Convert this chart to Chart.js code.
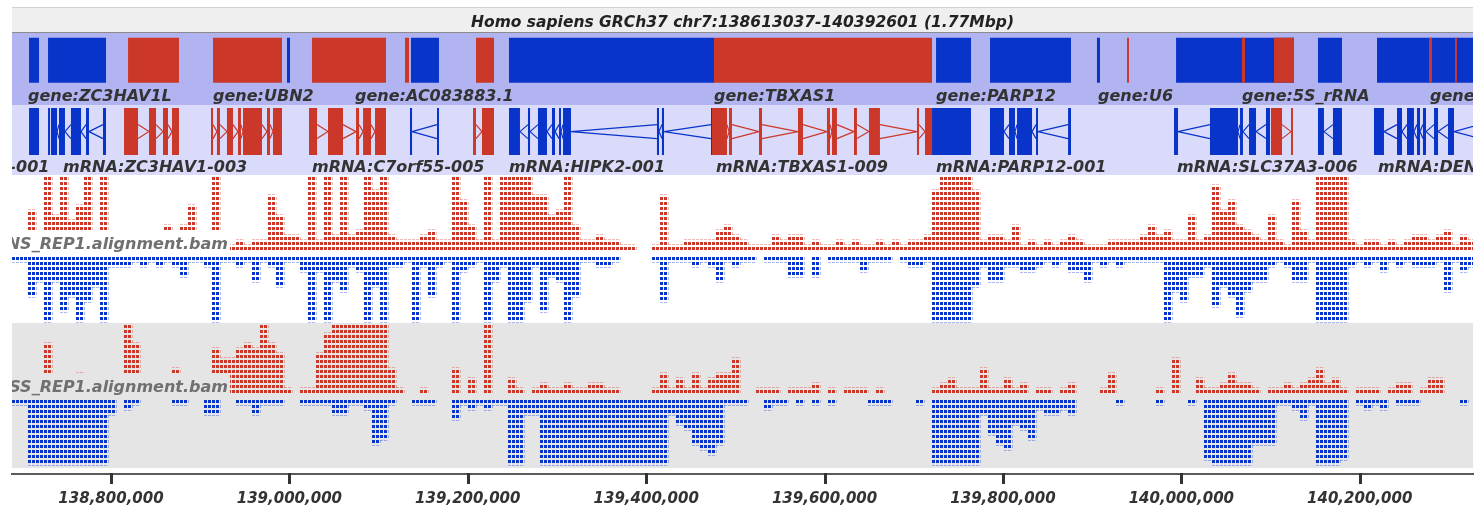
<!DOCTYPE html>
<html>
<head>
<meta charset="utf-8">
<title>chr7 region</title>
<script src="https://cdn.jsdelivr.net/npm/chart.js@4.4.0/dist/chart.umd.min.js"></script>
<style>
  html, body { margin: 0; padding: 0; background: #fff; }
  canvas { display: block; }
</style>
</head>
<body>
<canvas id="genomeChart" width="1475" height="506"></canvas>
<script>
// all positions are in kb on chr7
const titleText = 'Homo sapiens GRCh37 chr7:138613037-140392601 (1.77Mbp)';
const xMin = 138689;
const xMax = 140327;
const tickValues = [138800, 139000, 139200, 139400, 139600, 139800, 140000, 140200];

// gene track (minus strand blue, plus strand red)
const geneMinus = [
  [138708.1, 138719.3], [138729.4, 138794.4], [138997.3, 139000.7], [139136.3, 139167.7],
  [139246.2, 139476.1], [139725.0, 139764.2], [139785.5, 139876.3], [139905.4, 139908.8],
  [139994.1, 140126.3], [140153.2, 140180.1], [140219.4, 140328.1]
];
const genePlus = [
  [138819.1, 138876.2], [138914.4, 138991.7], [139025.3, 139108.3], [139129.6, 139134.1],
  [139209.2, 139229.4], [139476.1, 139720.5], [139939.1, 139941.3], [140068.0, 140071.4],
  [140103.9, 140126.3], [140277.7, 140281.1], [140306.8, 140309.0]
];
const geneNames = ['gene:ZC3HAV1L', 'gene:UBN2', 'gene:AC083883.1', 'gene:TBXAS1',
  'gene:PARP12', 'gene:U6', 'gene:5S_rRNA', 'gene:DENND2A'];
const geneNameAt = [138706.9, 138914.4, 139073.6, 139476.1, 139725.0, 139906.6, 140068.0, 140278.8];

// transcripts
const mrnaStrand = [-1, -1, 1, 1, 1, -1, 1, -1, 1, -1, -1, -1, 1, -1, -1];
const mrnaExons = [
  [[138708.1, 138719.3]],
  [[138729.4, 138731.6], [138732.7, 138739.5], [138741.7, 138748.4], [138755.1, 138766.4], [138772.0, 138775.3], [138791.0, 138794.4]],
  [[138814.6, 138830.3], [138842.6, 138850.5], [138858.3, 138863.9], [138868.4, 138876.2]],
  [[138912.1, 138914.4], [138918.8, 138922.2], [138930.0, 138936.8], [138942.4, 138945.7], [138948.0, 138969.3], [138974.9, 138978.3], [138981.6, 138991.7]],
  [[139022.0, 139031.0], [139043.3, 139060.1], [139074.7, 139078.1], [139082.6, 139091.5], [139096.0, 139108.3]],
  [[139135.2, 139137.5], [139165.5, 139167.7]],
  [[139205.9, 139209.2], [139215.9, 139229.4]],
  [[139246.2, 139258.5], [139267.5, 139269.8], [139278.7, 139288.8], [139294.4, 139297.8], [139302.3, 139304.5], [139306.8, 139315.7], [139412.1, 139414.4], [139417.7, 139420.0], [139472.7, 139474.9]],
  [[139473.8, 139490.6], [139492.9, 139496.2], [139526.5, 139529.9], [139570.2, 139575.8], [139602.7, 139606.1], [139608.3, 139613.9], [139633.0, 139636.3], [139649.8, 139662.1], [139703.6, 139705.9], [139712.6, 139720.5]],
  [[139720.5, 139764.2]],
  [[139785.5, 139801.2], [139806.8, 139813.5], [139815.8, 139832.6], [139837.1, 139839.3], [139873.0, 139876.3]],
  [[139991.8, 139996.3], [140032.1, 140063.5], [140065.8, 140069.1], [140075.9, 140083.7], [140094.9, 140099.4]],
  [[140100.5, 140112.9], [140123.0, 140125.2]],
  [[140153.2, 140159.9], [140170.0, 140180.1]],
  [[140216.0, 140227.2], [140241.8, 140247.4], [140253.0, 140260.8], [140264.2, 140267.6], [140270.9, 140274.3], [140283.3, 140287.8], [140299.0, 140305.7], [140334.9, 140340.0]]
];
const mrnaNames = ['mRNA:ZC3HAV1L-001', 'mRNA:ZC3HAV1-003', 'mRNA:C7orf55-005', 'mRNA:HIPK2-001',
  'mRNA:TBXAS1-009', 'mRNA:PARP12-001', 'mRNA:SLC37A3-006', 'mRNA:DENND2A-001'];
const mrnaNameAt = [138513, 138746.2, 139025.3, 139246.2, 139478.3, 139725.0, 139995.1, 140220.5];

// read pileups, counts per bin (bin centre = covStart + i * covStep)
const covStart = 138693.48;
const covStep = 8.9692;
const cov1Name = 'NS_REP1.alignment.bam';
const cov2Name = 'SS_REP1.alignment.bam';
const cov1Fwd = [
  0, 0, 8, 0, 15, 7, 15, 6, 9, 15,
  0, 15, 0, 0, 0, 0, 0, 0, 0, 5,
  0, 5, 9, 0, 0, 15, 0, 1, 2, 1,
  2, 2, 11, 7, 3, 3, 2, 15, 2, 15,
  3, 15, 3, 4, 15, 12, 15, 3, 2, 2,
  2, 3, 4, 2, 2, 15, 10, 5, 2, 15,
  2, 15, 15, 15, 15, 11, 11, 7, 8, 15,
  5, 2, 2, 3, 2, 2, 1, 1, 0, 0,
  1, 11, 1, 1, 2, 2, 2, 2, 4, 5,
  3, 2, 1, 1, 1, 3, 2, 3, 3, 1,
  2, 1, 1, 2, 1, 2, 1, 1, 2, 1,
  2, 1, 2, 2, 3, 12, 15, 15, 15, 15,
  12, 2, 3, 3, 2, 5, 1, 2, 1, 2,
  1, 2, 3, 2, 1, 1, 1, 2, 2, 2,
  2, 3, 5, 3, 4, 2, 2, 7, 2, 3,
  13, 8, 10, 5, 4, 3, 2, 7, 2, 1,
  10, 4, 2, 15, 15, 15, 15, 2, 1, 2,
  2, 1, 2, 1, 2, 3, 3, 2, 3, 4,
  1, 3, 2
];
const cov1Rev = [
  1, 1, 8, 5, 13, 5, 11, 8, 13, 9,
  6, 13, 2, 2, 2, 1, 2, 1, 2, 1,
  2, 4, 1, 1, 2, 13, 1, 1, 2, 1,
  5, 1, 2, 6, 1, 1, 3, 13, 3, 13,
  5, 7, 2, 3, 13, 6, 13, 2, 2, 1,
  13, 2, 8, 2, 1, 13, 3, 2, 1, 13,
  5, 2, 13, 13, 9, 2, 11, 4, 5, 13,
  8, 1, 1, 2, 2, 1, 0, 0, 0, 0,
  1, 9, 1, 1, 1, 2, 1, 2, 5, 1,
  2, 1, 1, 0, 1, 1, 1, 4, 4, 0,
  4, 0, 1, 1, 1, 1, 3, 1, 1, 1,
  0, 1, 2, 2, 1, 13, 13, 13, 13, 13,
  6, 2, 5, 5, 2, 2, 3, 3, 2, 1,
  2, 1, 3, 3, 5, 1, 2, 1, 2, 1,
  1, 1, 1, 1, 13, 7, 9, 4, 4, 2,
  10, 6, 8, 12, 7, 5, 5, 2, 1, 2,
  5, 5, 1, 13, 13, 13, 13, 2, 1, 2,
  1, 3, 1, 2, 1, 2, 2, 2, 1, 7,
  1, 3, 2
];
const cov2Fwd = [
  0, 0, 0, 0, 10, 2, 0, 0, 4, 0,
  0, 0, 0, 0, 14, 10, 2, 0, 3, 3,
  5, 0, 0, 0, 0, 9, 7, 7, 9, 10,
  9, 14, 10, 8, 1, 0, 1, 1, 8, 12,
  14, 14, 14, 14, 14, 14, 14, 5, 1, 0,
  0, 1, 0, 0, 0, 5, 0, 3, 0, 14,
  0, 0, 3, 1, 0, 1, 2, 1, 1, 2,
  1, 1, 2, 2, 1, 1, 0, 0, 0, 0,
  1, 4, 1, 3, 1, 4, 1, 3, 4, 4,
  7, 0, 0, 1, 1, 1, 0, 1, 1, 1,
  2, 0, 1, 0, 1, 1, 1, 0, 1, 0,
  0, 0, 0, 0, 0, 1, 2, 3, 1, 1,
  1, 5, 1, 1, 3, 1, 2, 0, 1, 1,
  0, 1, 2, 0, 0, 0, 1, 4, 0, 0,
  0, 0, 0, 1, 0, 7, 0, 0, 3, 1,
  1, 2, 4, 2, 2, 1, 0, 1, 1, 2,
  1, 2, 3, 5, 2, 3, 1, 0, 1, 1,
  1, 0, 1, 2, 2, 0, 1, 3, 3, 0,
  0, 0, 0
];
const cov2Rev = [
  1, 1, 13, 13, 13, 13, 13, 13, 13, 13,
  13, 13, 3, 0, 2, 1, 0, 0, 0, 0,
  1, 1, 0, 0, 3, 3, 0, 0, 1, 1,
  3, 1, 1, 1, 0, 0, 1, 1, 1, 1,
  3, 3, 1, 1, 2, 9, 8, 1, 0, 0,
  1, 1, 1, 0, 0, 4, 1, 2, 1, 2,
  1, 1, 13, 13, 3, 3, 13, 13, 13, 13,
  13, 13, 13, 13, 13, 13, 13, 13, 13, 13,
  13, 13, 3, 5, 6, 9, 10, 11, 9, 1,
  1, 1, 0, 0, 2, 1, 1, 0, 1, 0,
  1, 0, 1, 0, 0, 0, 0, 1, 1, 1,
  0, 0, 0, 1, 0, 13, 13, 13, 13, 13,
  13, 3, 7, 9, 10, 5, 6, 8, 2, 3,
  3, 2, 3, 0, 0, 0, 0, 0, 1, 0,
  0, 0, 0, 1, 0, 0, 0, 1, 0, 12,
  13, 13, 13, 13, 13, 9, 9, 9, 1, 1,
  2, 4, 1, 13, 13, 13, 12, 0, 1, 2,
  1, 2, 0, 1, 1, 1, 0, 0, 0, 0,
  0, 1, 0
];

const RED = '#cb3829';
const BLUE = '#0834ca';
const FONT = '"DejaVu Sans", Verdana, sans-serif';

const canvas = document.getElementById('genomeChart');
const ctx = canvas.getContext('2d');

// little tile so every read shows up as a short dash
function dashPattern(color, phase) {
  const tile = document.createElement('canvas');
  tile.width = 4;
  tile.height = 5;
  const g = tile.getContext('2d');
  g.fillStyle = color;
  g.fillRect(0, phase, 3, 3);
  return ctx.createPattern(tile, 'repeat');
}

function blockLine(blocks, row) {
  const pts = [];
  blocks.forEach(([s, e]) => {
    pts.push({x: s, y: row}, {x: e, y: row}, {x: e, y: null});
  });
  return pts;
}

// chevrons between exons, apex points along the strand
function intronLine(exons, strand, row, amp) {
  const pts = [];
  for (let k = 1; k < exons.length; k++) {
    const a = exons[k - 1][1];
    const b = exons[k][0];
    if (b - a < 2) continue;
    if (strand < 0) {
      pts.push({x: a, y: row}, {x: b, y: row + amp}, {x: b, y: null});
      pts.push({x: a, y: row}, {x: b, y: row - amp}, {x: b, y: null});
    } else {
      pts.push({x: a, y: row + amp}, {x: b, y: row}, {x: b, y: null});
      pts.push({x: a, y: row - amp}, {x: b, y: row}, {x: b, y: null});
    }
  }
  return pts;
}

function pileup(counts, up, gap) {
  const pts = [];
  counts.forEach((n, i) => {
    if (!n) return;
    const x = covStart + i * covStep;
    pts.push({x: x, y: up ? [0, n] : [-gap, -gap - n]});
  });
  return pts;
}

const ROW = 0.62;
const exonPlus = [], exonMinus = [], intronPlus = [], intronMinus = [];
mrnaExons.forEach((ex, k) => {
  const plus = mrnaStrand[k] > 0;
  (plus ? exonPlus : exonMinus).push(...blockLine(ex, ROW));
  (plus ? intronPlus : intronMinus).push(...intronLine(ex, mrnaStrand[k], ROW, 0.1));
});

function lineSet(data, color, width, axis) {
  return {
    type: 'line', data: data, borderColor: color, borderWidth: width,
    borderCapStyle: 'butt', pointRadius: 0, spanGaps: false, tension: 0,
    fill: false, yAxisID: axis
  };
}

function barSet(data, pattern, axis) {
  return {
    type: 'bar', data: data, backgroundColor: pattern, borderWidth: 0,
    grouped: false, barPercentage: 1, categoryPercentage: 1, yAxisID: axis
  };
}

const trackPainter = {
  id: 'trackPainter',
  beforeDraw(chart) {
    const {ctx, chartArea: a, scales} = chart;
    ctx.save();
    ctx.fillStyle = '#ffffff';
    ctx.fillRect(0, 0, chart.width, chart.height);
    // title bar
    ctx.fillStyle = '#efefef';
    ctx.fillRect(a.left, 7, a.width, a.top - 8);
    ctx.fillStyle = '#d2d2d2';
    ctx.fillRect(a.left, 7, a.width, 1);
    ctx.fillStyle = '#8c8c8c';
    ctx.fillRect(a.left, a.top - 1, a.width, 1);
    ctx.fillStyle = '#222';
    ctx.font = 'italic bold 15.5px ' + FONT;
    ctx.textAlign = 'center';
    ctx.textBaseline = 'alphabetic';
    ctx.fillText(titleText, (a.left + a.right) / 2, 26.5);
    // track bands
    const bands = [['yGene', '#b1b4f1'], ['yMrna', '#dadbfa'], ['yCov1', '#ffffff'], ['yCov2', '#e5e5e5']];
    bands.forEach(([id, col]) => {
      const s = scales[id];
      ctx.fillStyle = col;
      ctx.fillRect(a.left, s.top, a.width, s.bottom - s.top);
    });
    ctx.restore();
  },
  afterDatasetsDraw(chart) {
    const {ctx, chartArea: a, scales} = chart;
    const x = scales.x;
    ctx.save();
    ctx.beginPath();
    ctx.rect(a.left, a.top, a.width, a.height);
    ctx.clip();
    ctx.font = 'italic bold 16px ' + FONT;
    ctx.textAlign = 'left';
    ctx.textBaseline = 'alphabetic';
    ctx.fillStyle = '#333';
    const gy = scales.yGene.bottom - 4;
    geneNames.forEach((t, k) => ctx.fillText(t, x.getPixelForValue(geneNameAt[k]), gy));
    const my = scales.yMrna.bottom - 3;
    mrnaNames.forEach((t, k) => ctx.fillText(t, x.getPixelForValue(mrnaNameAt[k]), my));
    // bam track names sit on a plate over the pileup
    [['yCov1', cov1Name, '#ffffff'], ['yCov2', cov2Name, '#e5e5e5']].forEach(([id, name, bg]) => {
      const base = scales[id].getPixelForValue(0);
      ctx.fillStyle = bg;
      ctx.fillRect(a.left, base - 20, 218, 24);
      ctx.fillStyle = '#707070';
      ctx.textAlign = 'right';
      ctx.fillText(name, a.left + 216, base - 1);
    });
    ctx.restore();
  },
  afterDraw(chart) {
    // short tick marks hanging under the ruler line
    const {ctx, scales} = chart;
    const x = scales.x;
    ctx.save();
    ctx.setTransform(1, 0, 0, 1, 0, 0);
    ctx.fillStyle = '#333333';
    tickValues.forEach(v => {
      const px = Math.round(x.getPixelForValue(v));
      ctx.fillRect(px - 1, 473, 3, 11);
    });
    ctx.restore();
  }
};

function hiddenAxis(weight, stackWeight, min, max) {
  return {
    type: 'linear', display: false, position: 'left', stack: 'tracks',
    weight: weight, stackWeight: stackWeight, min: min, max: max
  };
}

new Chart(ctx, {
  type: 'bar',
  data: {
    datasets: [
      lineSet(blockLine(genePlus, ROW), RED, 45, 'yGene'),
      lineSet(blockLine(geneMinus, ROW), BLUE, 45, 'yGene'),
      lineSet(exonPlus, RED, 47, 'yMrna'),
      lineSet(exonMinus, BLUE, 47, 'yMrna'),
      lineSet(intronPlus, RED, 1.2, 'yMrna'),
      lineSet(intronMinus, BLUE, 1.2, 'yMrna'),
      barSet(pileup(cov1Fwd, true, 0), dashPattern(RED, 2), 'yCov1'),
      barSet(pileup(cov1Rev, false, 1.4), dashPattern(BLUE, 2), 'yCov1'),
      barSet(pileup(cov2Fwd, true, 0), dashPattern(RED, 0), 'yCov2'),
      barSet(pileup(cov2Rev, false, 1.4), dashPattern(BLUE, 0), 'yCov2')
    ]
  },
  options: {
    responsive: false,
    devicePixelRatio: 1,
    animation: false,
    events: [],
    layout: { padding: { left: 12, right: 2, top: 33, bottom: 0 } },
    plugins: { legend: { display: false }, tooltip: { enabled: false } },
    scales: {
      x: {
        type: 'linear',
        position: 'bottom',
        offset: false,
        min: xMin,
        max: xMax,
        afterBuildTicks: (axis) => { axis.ticks = tickValues.map(v => ({value: v})); },
        afterFit: (axis) => { axis.height = 32; },
        grid: { display: false, offset: false, drawOnChartArea: false, tickLength: 9 },
        border: { display: true, color: '#5a5a5a', width: 2 },
        ticks: {
          autoSkip: false, maxRotation: 0, padding: 7, color: '#333',
          font: { family: FONT, size: 15, weight: 'bold', style: 'italic' },
          callback: (v) => String(Math.round(v * 1000)).replace(/\B(?=(\d{3})+(?!\d))/g, ',')
        }
      },
      yGene: hiddenAxis(5, 72, 0, 1),
      yMrna: hiddenAxis(4, 70, 0, 1),
      yCov1: hiddenAxis(3, 148, -14.6, 15),
      yCov2: hiddenAxis(2, 145, -15, 14),
      yGap: hiddenAxis(1, 6, 0, 1)
    }
  },
  plugins: [trackPainter]
});
</script>
</body>
</html>
